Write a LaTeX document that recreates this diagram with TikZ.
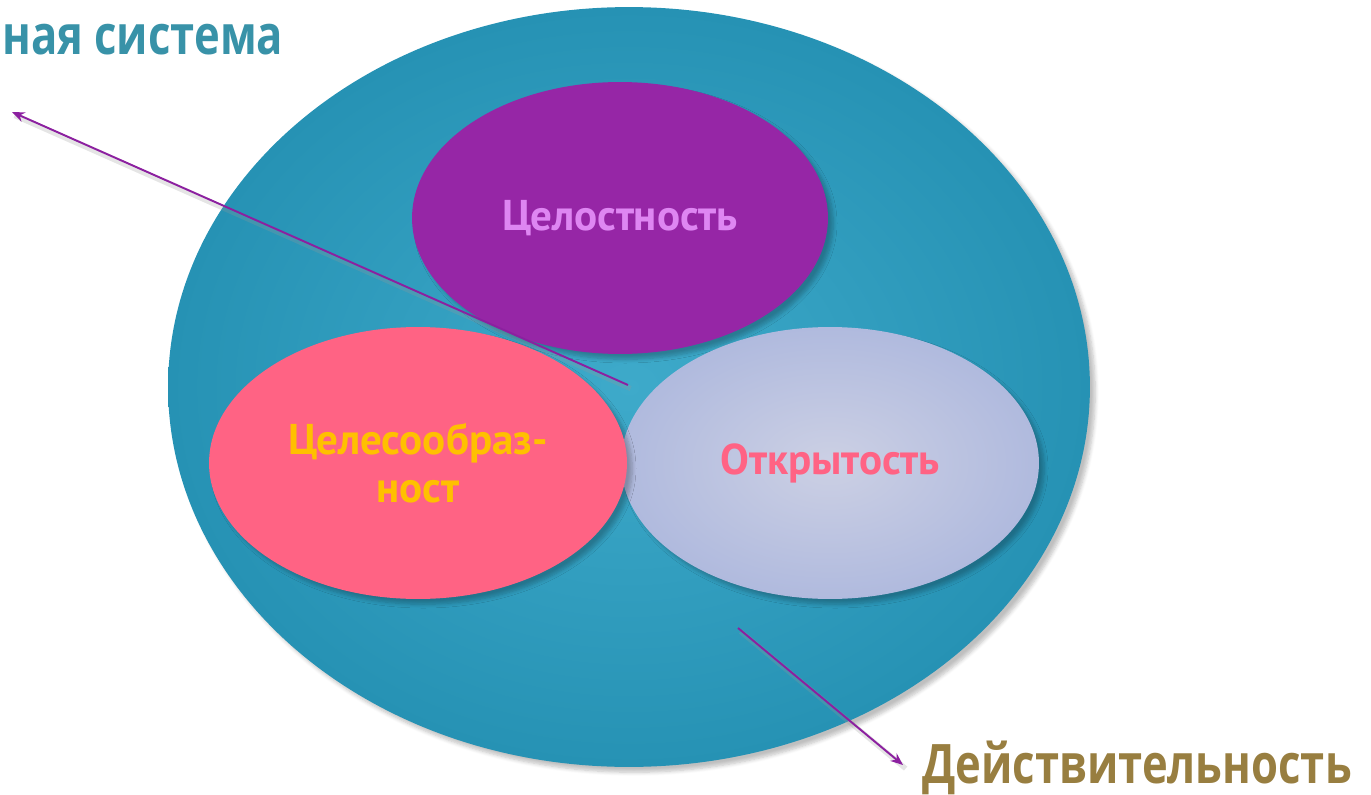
\documentclass[tikz,border=0pt]{standalone}
\usepackage{fontspec}
\setmainfont{Open Sans}
\newfontfamily\labelfont{PT Sans}
\usetikzlibrary{shapes.geometric, arrows.meta, shadows.blur}
\definecolor{seaout}{RGB}{38,146,180}
\definecolor{seain}{RGB}{62,170,202}
\definecolor{plum}{RGB}{150,38,166}
\definecolor{rose}{RGB}{255,99,132}
\definecolor{lilacin}{RGB}{204,208,228}
\definecolor{lilacout}{RGB}{176,186,222}
\definecolor{lightplum}{RGB}{222,134,242}
\definecolor{gold}{RGB}{255,192,0}
\definecolor{teal}{RGB}{56,146,168}
\definecolor{olive}{RGB}{152,126,64}
\definecolor{arrowpurple}{RGB}{140,32,160}

\begin{document}
\begin{tikzpicture}[
    x=0.02cm, y=-0.02cm,
    blob/.style={ellipse, inner sep=0pt, text centered, align=center,
        blur shadow={shadow xshift=3pt, shadow yshift=-3pt, shadow opacity=25, shadow blur steps=6}},
    whole/.style={blob, minimum width=18.44cm, minimum height=15.2cm, shading=radial, inner color=seain, outer color=seaout},
    part/.style={blob, minimum width=8.36cm, minimum height=5.44cm, font=\labelfont\bfseries\fontsize{24.5}{27}\selectfont},
    title/.style={font=\bfseries\fontsize{31}{36}\selectfont, inner sep=0pt, xscale=0.8, transform shape},
    arr/.style={-{Stealth[length=2.5mm, width=2mm]}, line width=1.1pt, arrowpurple,
        preaction={draw=black!40, opacity=0.25, line width=3pt, -, transform canvas={xshift=1.5pt, yshift=-2pt}}},
]
\useasboundingbox (0,0) rectangle (1371,794);

\node[whole] (sys) at (629,387) {};

\node[part, fill=plum, text=lightplum, minimum width=8.32cm] (whole1) at (620,218) {Целостность};
\node[part, shading=radial, inner color=lilacin, outer color=lilacout, text=rose] (open) at (830,463) {Открытость};
\node[part, fill=rose, text=gold] (goal) at (418,463) {Целесообраз-\\ност};

\node[title, text=teal, anchor=base west] (sysname) at (2,55) {ная система};
\node[title, text=olive, anchor=base west] (reality) at (922,783) {Действительность};

\coordinate (c1) at (628,385);
\coordinate (c2) at (12,112);
\coordinate (c3) at (738,628);
\coordinate (c4) at (903,765);

\draw[arr] (c1) -- (c2);
\draw[arr] (c3) -- (c4);

\end{tikzpicture}
\end{document}
